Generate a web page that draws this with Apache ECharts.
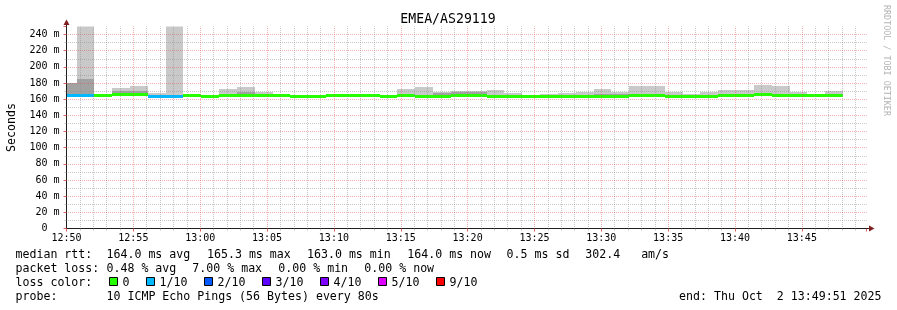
<!DOCTYPE html>
<html>
<head>
<meta charset="utf-8">
<script src="https://cdn.jsdelivr.net/npm/echarts@6/dist/echarts.min.js"></script>
<style>
html,body{margin:0;padding:0;background:#ffffff;}
#chart{width:897px;height:310px;}
</style>
</head>
<body>
<div id="chart"></div>
<script>
// ---------- data ----------
const chartTitle = 'EMEA/AS29119';
const yAxisTitle = 'Seconds';
const firstStepStartSec = -35;   // start of first 80 s step, seconds relative to 12:50:00
const stepSec = 80;
const axisEndSec = 3591;         // 13:49:51
const axisStartHour = 12, axisStartMinute = 50;

const medianMs = [164.3,164.3,164.1,165.3,165.3,163.6,163.1,164.3,163.1,164.4,
                  164.4,164.4,164.1,163.1,163.1,164.1,164.1,164.4,163.9,164.4,
                  163.1,163.1,164.9,165.2,163.1,163.9,163.0,163.1,163.9,163.9,
                  163.9,163.9,164.1,164.1,163.9,163.1,163.1,164.1,164.1,165.3,
                  164.1,164.1,164.1,164.0];
const lossCount = [1,1,0,0,0,1,1,0,0,0,
                   0,0,0,0,0,0,0,0,0,0,
                   0,0,0,0,0,0,0,0,0,0,
                   0,0,0,0,0,0,0,0,0,0,
                   0,0,0,0];
const smokeMidMs = [180,185,165,170.7,170,165,164,165.3,164,166,
                    168.7,166.5,165,164,164,165,165,165.3,165,166,
                    165,167.4,168.7,168.7,165,165.3,165.8,164.5,165.3,165.5,
                    166,167,166,166,165.5,164.5,165,166,166,167,
                    167,166,165.5,166];
const smokeMaxMs = [180,262,165.8,174,176.5,167.4,262,166.8,165,172.8,
                    175.3,168.4,165.8,164.4,164.4,165.3,166.6,166.6,165.2,172.8,
                    175.3,168.7,170.3,170.3,172,167.8,165.8,167,167.8,169.5,
                    172.8,169,176.5,176.5,168.7,166.6,169.5,171.5,171.5,177.8,
                    176.5,169,166.6,170.3];

const lossLabels = ['0','1/10','2/10','3/10','4/10','5/10','9/10'];
const lossColors = ['#26ff00','#00b8ff','#0059ff','#5e00ff','#7e00ff','#dd00ff','#ff0000'];

const medianStats = ['164.0 ms avg','165.3 ms max','163.0 ms min','164.0 ms now','0.5 ms sd','302.4   am/s'];
const lossStats = ['0.48 % avg','7.00 % max','0.00 % min','0.00 % now'];
const probeText = '10 ICMP Echo Pings (56 Bytes) every 80s';
const endText = 'end: Thu Oct  2 13:49:51 2025';
const sideText = 'RRDTOOL / TOBI OETIKER';

// ---------- style ----------
const MONO = '"DejaVu Sans Mono", monospace';
const smokeLight = '#c9c9c9';
const smokeDark = '#a2a2a2';
const gridMinor = 'rgba(143,143,143,0.5)';
const gridMajor = 'rgba(222,79,79,0.45)';
const axisColor = '#1f1f1f';
const arrowColor = '#801f1f';

function lossColor(n){ return lossColors[n <= 5 ? n : 6]; }
function pad(n){ return (n < 10 ? '0' : '') + n; }
function timeLabel(sec){
  const m = axisStartHour*60 + axisStartMinute + Math.round(sec/60);
  return pad(Math.floor(m/60)%24) + ':' + pad(m%60);
}

const data = medianMs.map((m, i) => {
  const t0 = firstStepStartSec + i*stepSec;
  return [t0, t0 + stepSec, m, smokeMidMs[i], smokeMaxMs[i], lossCount[i]];
});

function renderStep(params, api){
  const cs = params.coordSys;
  const box = {x: cs.x, y: cs.y, width: cs.width, height: cs.height};
  const t0 = api.value(0), t1 = api.value(1);
  const med = api.value(2), mid = api.value(3), hi = api.value(4), loss = api.value(5);
  const xa = Math.round(api.coord([t0, 0])[0]);
  const xb = Math.round(api.coord([t1, 0])[0]);
  const yMed = api.coord([t0, med])[1];
  const yMid = Math.round(api.coord([t0, mid])[1]);
  const yHi = Math.round(api.coord([t0, hi])[1]);
  const yMedR = Math.round(yMed);
  const children = [];
  function add(r, fill){
    if (r.height <= 0 || r.width <= 0) return;
    const c = echarts.graphic.clipRectByRect(r, box);
    if (c) children.push({type:'rect', shape:c, style:{fill: fill}});
  }
  add({x: xa, y: yHi, width: xb - xa, height: yMedR - yHi}, smokeLight);
  add({x: xa, y: yMid, width: xb - xa, height: yMedR - yMid}, smokeDark);
  add({x: xa, y: Math.round(yMed - 1.5), width: xb - xa, height: 3}, lossColor(loss));
  return {type:'group', children: children};
}

// ---------- graphics (texts / legend) ----------
const graphics = [];
function txt(x, y, s, opt){
  opt = opt || {};
  graphics.push({
    type:'text', x:x, y:y, rotation: opt.rotation || 0, z: 100,
    style:{text:s, fill: opt.color || '#000', font: (opt.size || 11.6) + 'px ' + MONO,
           textAlign: opt.align || 'left', textVerticalAlign:'middle'}
  });
}
txt(448, 20, chartTitle, {size:13.2, align:'center'});
txt(12, 127.5, yAxisTitle, {align:'center', rotation: Math.PI/2});
txt(886, 5, sideText, {size:8.4, color:'#b4b4b4', rotation: -Math.PI/2});

const rowY = [254.8, 268.8, 282.5, 296.5];
txt(15.5, rowY[0], 'median rtt:');
[106.5, 207, 307, 407.3, 506.6, 585.3].forEach((x, i) => txt(x, rowY[0], medianStats[i]));
txt(15.5, rowY[1], 'packet loss:');
[106.5, 192.3, 278.3, 364.3].forEach((x, i) => txt(x, rowY[1], lossStats[i]));
txt(15.5, rowY[2], 'loss color:');
[109, 146, 204, 262, 320, 378, 436].forEach((x, i) => {
  graphics.push({type:'rect', z:100, shape:{x:x+0.5, y:277.5, width:8, height:8},
                 style:{fill: lossColors[i], stroke:'#000', lineWidth:1}});
  txt(x + 13.5, rowY[2], lossLabels[i]);
});
txt(15.5, rowY[3], 'probe:');
txt(106.5, rowY[3], probeText);
txt(881.5, rowY[3], endText, {align:'right'});

// axis extensions and arrows
graphics.push({type:'line', z:50, shape:{x1:66.5, y1:26.5, x2:66.5, y2:24}, style:{stroke:axisColor, lineWidth:1}});
graphics.push({type:'polygon', z:50, shape:{points:[[63.5,25],[69.5,25],[66.5,19.5]]}, style:{fill:arrowColor}});
graphics.push({type:'line', z:50, shape:{x1:866.5, y1:228.5, x2:870, y2:228.5}, style:{stroke:axisColor, lineWidth:1}});
graphics.push({type:'polygon', z:50, shape:{points:[[869,225.5],[869,231.5],[874.5,228.5]]}, style:{fill:arrowColor}});

// ---------- chart ----------
const chart = echarts.init(document.getElementById('chart'), null, {renderer:'canvas'});
const labelFont = {fontFamily: MONO, fontSize: 10, color:'#000'};
const dot = {type:[1,1], dashOffset:0.5, width:1};

chart.setOption({
  animation: false,
  backgroundColor: '#ffffff',
  grid: {left: 66.5, top: 26.5, width: 800.2, height: 202, containLabel: false, outerBoundsMode: 'none'},
  xAxis: [
    {
      type:'value', min:0, max:axisEndSec, interval:300, position:'bottom', z:5,
      axisLine:{show:true, lineStyle:{color:axisColor, width:1}},
      axisTick:{show:true, length:3, lineStyle:{color:'rgba(222,79,79,0.9)'}},
      minorTick:{show:true, splitNumber:5, length:2, lineStyle:{color:gridMinor}},
      axisLabel:Object.assign({margin:4.5, showMinLabel:true, showMaxLabel:false, hideOverlap:false,
                 formatter: v => (v % 300 === 0 ? timeLabel(v) : '')}, labelFont),
      splitLine:{show:true, showMinLine:true, showMaxLine:false, lineStyle:Object.assign({color:gridMajor}, dot)},
      minorSplitLine:{show:false}
    },
    {
      type:'value', min:0, max:axisEndSec, interval:60, position:'bottom', z:4,
      axisLine:{show:false}, axisTick:{show:false}, axisLabel:{show:false},
      splitLine:{show:true, showMinLine:true, showMaxLine:false,
                 lineStyle:Object.assign({color:['transparent', gridMinor, gridMinor, gridMinor, gridMinor]}, dot)}
    }
  ],
  yAxis: [
    {
      type:'value', min:0, max:250, interval:20, position:'left', z:5,
      axisLine:{show:true, lineStyle:{color:axisColor, width:1}},
      axisTick:{show:true, length:3, lineStyle:{color:'rgba(222,79,79,0.9)'}},
      minorTick:{show:true, splitNumber:2, length:2, lineStyle:{color:gridMinor}},
      axisLabel:Object.assign({margin:7, showMinLabel:true, showMaxLabel:false, hideOverlap:false,
                 formatter: v => (v === 0 ? '0  ' : (v % 20 === 0 ? v + ' m' : ''))}, labelFont),
      splitLine:{show:true, showMinLine:true, showMaxLine:false, lineStyle:Object.assign({color:gridMajor}, dot)},
      minorSplitLine:{show:false}
    },
    {
      type:'value', min:0, max:250, interval:10, position:'left', z:4,
      axisLine:{show:false}, axisTick:{show:false}, axisLabel:{show:false},
      splitLine:{show:true, showMinLine:true, showMaxLine:false,
                 lineStyle:Object.assign({color:['transparent', gridMinor]}, dot)}
    }
  ],
  series: [{
    type:'custom', xAxisIndex:0, yAxisIndex:0, z:2,
    renderItem: renderStep,
    encode:{x:[0,1], y:[2,3,4]},
    data: data
  }],
  graphic: graphics
});
</script>
</body>
</html>
